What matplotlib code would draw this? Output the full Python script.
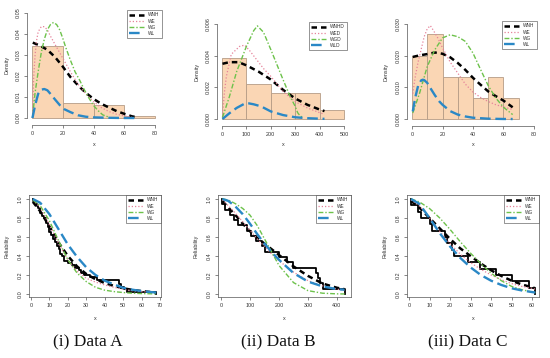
import matplotlib
matplotlib.use("Agg")
import matplotlib.pyplot as plt

# ---------------- data ----------------
# Top row: histograms (bin edges start, width, density heights)
binsA_left = [0, 20, 40, 60]
binsA_height = [0.0345, 0.0070, 0.0060, 0.0011]
binsA_width = 20
binsB_left = [0, 100, 200, 300, 400]
binsB_height = [0.00389, 0.00222, 0.00167, 0.00167, 0.00056]
binsB_width = 100
binsC_left = [0, 10, 20, 30, 40, 50, 60]
binsC_height = [0.0200, 0.0267, 0.0133, 0.0133, 0.00667, 0.0133, 0.00667]
binsC_width = 10

# Top row fitted densities
wnhA_x = [0.5, 5, 10, 15, 20, 25, 30, 35, 40, 45, 50, 55, 60, 65, 68]
wnhA_y = [0.0359, 0.0345, 0.0325, 0.029, 0.0245, 0.0195, 0.0155, 0.012, 0.0091, 0.0068, 0.005, 0.0033, 0.002, 0.0008, 0.0004]
weA_x = [0.3, 1, 2, 3, 4, 6, 8, 10, 12, 15, 20, 25, 30, 35, 40, 45, 50, 55, 60, 65]
weA_y = [0.0, 0.018, 0.030, 0.037, 0.041, 0.0435, 0.0435, 0.042, 0.039, 0.035, 0.0285, 0.022, 0.016, 0.0115, 0.0078, 0.005, 0.0031, 0.0018, 0.001, 0.0005]
wgA_x = [0.3, 2, 4, 6, 8, 10, 12, 14, 16, 18, 20, 22, 25, 28, 31, 34, 37, 40, 43, 46, 50]
wgA_y = [0.0, 0.012, 0.022, 0.031, 0.0375, 0.042, 0.0445, 0.0455, 0.0445, 0.042, 0.038, 0.0335, 0.0275, 0.022, 0.018, 0.0135, 0.0095, 0.006, 0.0035, 0.0015, 0.0004]
wlA_x = [0.3, 2, 4, 6, 8, 10, 12, 15, 18, 21, 25, 30, 35, 40, 50, 60, 68]
wlA_y = [0.0, 0.006, 0.0115, 0.0135, 0.0138, 0.0132, 0.0115, 0.0088, 0.0062, 0.0042, 0.0028, 0.0013, 0.0006, 0.0003, 0.0001, 0.0, 0.0]

wnhB_x = [2, 30, 68, 100, 150, 200, 250, 300, 350, 400, 420]
wnhB_y = [0.0035, 0.0036, 0.0036, 0.0034, 0.0030, 0.0025, 0.00185, 0.0013, 0.0009, 0.0006, 0.0005]
weB_x = [2, 4, 10, 18, 38, 72, 93, 115, 140, 170, 200, 250, 300, 350, 400, 420]
weB_y = [0.0001, 0.0006, 0.0017, 0.0027, 0.0041, 0.0046, 0.00468, 0.0043, 0.0038, 0.0032, 0.0027, 0.00175, 0.0011, 0.0007, 0.0004, 0.0003]
wgB_x = [2, 30, 60, 100, 130, 145, 170, 200, 250, 280, 300, 310, 320, 330]
wgB_y = [0.0001, 0.0014, 0.0030, 0.0046, 0.0056, 0.0059, 0.0055, 0.0044, 0.0025, 0.0014, 0.0008, 0.0004, 0.0002, 0.0001]
wlB_x = [2, 30, 60, 96, 110, 130, 160, 200, 250, 300, 350, 400, 420]
wlB_y = [0.0, 0.00036, 0.0007, 0.001, 0.00099, 0.00093, 0.0008, 0.00048, 0.00025, 0.00011, 0.00005, 0.00002, 0.00001]

wnhC_x = [0.5, 5, 10, 15, 20, 25, 30, 35, 40, 45, 50, 55, 60, 66]
wnhC_y = [0.0196, 0.0201, 0.0205, 0.021, 0.0206, 0.0195, 0.0177, 0.0155, 0.013, 0.0108, 0.0087, 0.0072, 0.0058, 0.0037]
weC_x = [0.5, 2, 4, 6, 8, 10, 12, 14, 17, 20, 25, 30, 35, 40, 45, 50, 55, 60, 66]
weC_y = [0.008, 0.013, 0.018, 0.022, 0.026, 0.0285, 0.0295, 0.028, 0.0255, 0.0225, 0.018, 0.0145, 0.011, 0.0085, 0.0068, 0.0055, 0.0045, 0.0038, 0.003]
wgC_x = [0.5, 5, 10, 15, 20, 25, 30, 35, 40, 45, 50, 55, 60, 66]
wgC_y = [0.0019, 0.0082, 0.0166, 0.0219, 0.0256, 0.0266, 0.026, 0.0245, 0.0208, 0.0156, 0.0105, 0.0066, 0.0037, 0.0014]
wlC_x = [0.5, 2, 4, 6, 7, 8, 10, 12, 15, 18, 20, 25, 30, 35, 40, 50, 60, 66]
wlC_y = [0.0024, 0.0065, 0.0105, 0.0122, 0.0124, 0.0123, 0.0114, 0.0098, 0.0075, 0.0055, 0.0045, 0.0025, 0.0014, 0.0008, 0.0004, 0.0001, 0.0, 0.0]

# Bottom row: empirical reliability (step, post)
empA_x = [1, 1, 2, 3, 4, 5, 6, 7, 8, 9, 10, 11, 12, 13, 14, 15, 16, 17, 18, 20, 22, 24, 26, 27, 29, 32, 35.7, 48, 49, 50.5, 52, 68]
empA_y = [1.0, 0.975, 0.95, 0.925, 0.9, 0.85, 0.825, 0.8, 0.75, 0.7, 0.65, 0.625, 0.575, 0.55, 0.5, 0.475, 0.425, 0.4, 0.35, 0.325, 0.3, 0.275, 0.25, 0.225, 0.2, 0.175, 0.15, 0.1, 0.075, 0.05, 0.025, 0.0]
empB_x = [5, 5, 15, 30, 45, 58, 90, 105, 120, 140, 152, 200, 226, 249, 329, 333, 340, 352, 426]
empB_y = [1.0, 0.944, 0.889, 0.833, 0.778, 0.722, 0.667, 0.611, 0.556, 0.5, 0.444, 0.389, 0.333, 0.278, 0.222, 0.167, 0.111, 0.056, 0.0]
empC_x = [1, 1, 4.4, 6, 10.1, 11, 17.5, 18.3, 21, 22, 29, 34.7, 42.3, 50.2, 58.4, 61.6]
empC_y = [1.0, 0.933, 0.867, 0.8, 0.733, 0.667, 0.6, 0.533, 0.467, 0.4, 0.333, 0.267, 0.2, 0.133, 0.067, 0.0]

# Bottom row fitted reliability
relA_x = [1, 5, 10, 15, 20, 25, 30, 35, 40, 45, 50, 55, 60, 65, 68]
relA_wnh = [0.97, 0.87, 0.71, 0.54, 0.40, 0.29, 0.21, 0.155, 0.115, 0.085, 0.06, 0.043, 0.03, 0.02, 0.016]
relA_we = [0.99, 0.91, 0.73, 0.53, 0.36, 0.24, 0.165, 0.125, 0.095, 0.07, 0.05, 0.035, 0.025, 0.018, 0.015]
relA_wg = [0.99, 0.93, 0.77, 0.56, 0.36, 0.22, 0.13, 0.07, 0.04, 0.025, 0.015, 0.008, 0.004, 0.002, 0.001]
relA_wl = [1.0, 0.96, 0.84, 0.68, 0.52, 0.39, 0.28, 0.20, 0.14, 0.10, 0.065, 0.045, 0.03, 0.02, 0.015]

relB_x = [5, 25, 50, 75, 100, 125, 150, 175, 200, 250, 300, 350, 400, 426]
relB_wnh = [0.98, 0.91, 0.83, 0.74, 0.66, 0.59, 0.53, 0.47, 0.41, 0.29, 0.19, 0.11, 0.065, 0.05]
relB_we = [0.99, 0.93, 0.85, 0.76, 0.67, 0.58, 0.50, 0.42, 0.35, 0.23, 0.14, 0.085, 0.05, 0.04]
relB_wg = [1.0, 0.99, 0.95, 0.90, 0.83, 0.72, 0.58, 0.44, 0.30, 0.12, 0.035, 0.008, 0.001, 0.0]
relB_wl = [1.0, 0.98, 0.92, 0.84, 0.74, 0.63, 0.53, 0.44, 0.36, 0.22, 0.13, 0.08, 0.05, 0.045]

relC_x = [1, 5, 10, 15, 20, 25, 30, 35, 40, 45, 50, 55, 60, 61.6]
relC_wnh = [0.98, 0.91, 0.80, 0.69, 0.58, 0.48, 0.40, 0.32, 0.25, 0.19, 0.14, 0.10, 0.07, 0.06]
relC_we = [0.99, 0.93, 0.80, 0.66, 0.53, 0.42, 0.33, 0.26, 0.20, 0.15, 0.11, 0.08, 0.06, 0.05]
relC_wg = [1.0, 0.97, 0.90, 0.80, 0.68, 0.55, 0.43, 0.32, 0.22, 0.14, 0.08, 0.045, 0.02, 0.015]
relC_wl = [1.0, 0.95, 0.80, 0.64, 0.50, 0.38, 0.28, 0.20, 0.14, 0.095, 0.06, 0.037, 0.02, 0.015]

legend_top_A = ["WNH", "WE", "WG", "WL"]
legend_top_B = ["WNHD", "WED", "WGD", "WLD"]
legend_top_C = ["WNH", "WE", "WG", "WL"]
legend_bottom = ["WNH", "WE", "WG", "WL"]
captions = ["(i) Data A", "(ii) Data B", "(iii) Data C"]

xticksA_top = [0, 20, 40, 60, 80]
yticksA_top = [0.00, 0.01, 0.02, 0.03, 0.04, 0.05]
yticklabA_top = ["0.00", "0.01", "0.02", "0.03", "0.04", "0.05"]
xticksB_top = [0, 100, 200, 300, 400, 500]
yticksB_top = [0.000, 0.002, 0.004, 0.006]
yticklabB_top = ["0.000", "0.002", "0.004", "0.006"]
xticksC_top = [0, 20, 40, 60, 80]
yticksC_top = [0.000, 0.010, 0.020, 0.030]
yticklabC_top = ["0.000", "0.010", "0.020", "0.030"]
xticksA_bot = [0, 10, 20, 30, 40, 50, 60, 70]
xticksB_bot = [0, 100, 200, 300, 400]
xticksC_bot = [0, 10, 20, 30, 40, 50, 60]
yticks_bot = [0.0, 0.2, 0.4, 0.6, 0.8, 1.0]
yticklab_bot = ["0.0", "0.2", "0.4", "0.6", "0.8", "1.0"]

# ---------------- style ----------------
W, H = 550, 358
C_BLACK = "#000000"
C_PINK = "#E6839A"
C_GREEN = "#6DC24B"
C_BLUE = "#2A88C6"
C_FILL = "#FAD6B4"
C_EDGE = "#B59C86"
AX_COL = "#555555"
TXT_COL = "#333333"
TICK_FS = 3.9
SANS = ["Liberation Sans", "DejaVu Sans"]

styles = [
    dict(color=C_BLACK, lw=1.8, ls=(0, (2.2, 1.6))),
    dict(color=C_PINK, lw=0.9, ls=(0, (1, 1.6))),
    dict(color=C_GREEN, lw=1.0, ls=(0, (3.5, 1.4, 1, 1.4))),
    dict(color=C_BLUE, lw=1.7, ls=(0, (4.5, 2.0))),
]

fig = plt.figure(figsize=(W / 100, H / 100), dpi=100)
fig.patch.set_facecolor("white")


def make_ax(left, right, top, bottom):
    return fig.add_axes([left / W, 1 - bottom / H, (right - left) / W, (bottom - top) / H])


def style_ticks(ax, pad_x, pad_y):
    ax.tick_params(axis="both", which="both", direction="out", length=2.2, width=0.5,
                   color=AX_COL, labelsize=TICK_FS, labelcolor=TXT_COL)
    ax.tick_params(axis="x", pad=pad_x)
    ax.tick_params(axis="y", pad=pad_y)
    for lab in ax.get_yticklabels():
        lab.set_rotation(90)
        lab.set_va("center")
        lab.set_family(SANS)
    for lab in ax.get_xticklabels():
        lab.set_family(SANS)


def add_legend(ax, labels, right, top):
    handles = [plt.Line2D([], [], **s) for s in styles]
    leg = ax.legend(handles, labels, loc="upper right",
                    bbox_to_anchor=(right / W, 1 - top / H), bbox_transform=fig.transFigure,
                    borderaxespad=0, frameon=True, fancybox=False,
                    edgecolor="#444444", handlelength=3.2, handletextpad=0.8,
                    labelspacing=0.25, borderpad=0.5, prop={"family": SANS, "size": 3.4})
    leg.get_frame().set_linewidth(0.5)
    for t in leg.get_texts():
        t.set_color(TXT_COL)


def label_pos(ax, xlabel, ylabel, xl_px, yl_px):
    ax.set_xlabel(xlabel, fontsize=3.9, color=TXT_COL, family=SANS)
    ax.set_ylabel(ylabel, fontsize=3.9, color=TXT_COL, family=SANS)
    ax.xaxis.set_label_coords(xl_px[0] / W, 1 - xl_px[1] / H, transform=fig.transFigure)
    ax.yaxis.set_label_coords(yl_px[0] / W, 1 - yl_px[1] / H, transform=fig.transFigure)
    ax.xaxis.label.set_va("center")
    ax.yaxis.label.set_va("center")


def top_panel(rect, xlim, ylim, bl, bh, bw, curves, xt, yt, ytl, legend_labels, leg_rt):
    ax = make_ax(*rect)
    ax.bar(bl, bh, width=bw, align="edge", color=C_FILL, edgecolor=C_EDGE, linewidth=0.6, zorder=1)
    for (cx, cy), s in zip(curves, styles):
        ax.plot(cx, cy, zorder=3, **s)
    ax.set_xlim(*xlim)
    ax.set_ylim(*ylim)
    ax.set_xticks(xt)
    ax.set_xticklabels([str(v) for v in xt])
    ax.set_yticks(yt)
    ax.set_yticklabels(ytl)
    for sp in ["top", "right"]:
        ax.spines[sp].set_visible(False)
    ax.spines["left"].set_bounds(yt[0], yt[-1])
    ax.spines["bottom"].set_bounds(xt[0], xt[-1])
    for sp in ["left", "bottom"]:
        ax.spines[sp].set_color(AX_COL)
        ax.spines[sp].set_linewidth(0.5)
    style_ticks(ax, 2.0, 2.0)
    add_legend(ax, legend_labels, *leg_rt)
    ax.set_facecolor("none")
    return ax


def bottom_panel(rect, xlim, ex, ey, rx, rys, xt, leg_rt):
    ax = make_ax(*rect)
    ax.step(ex, ey, where="post", color=C_BLACK, lw=1.3, zorder=2)
    for ry, s in zip(rys, styles):
        ax.plot(rx, ry, zorder=3, **s)
    ax.set_xlim(*xlim)
    ax.set_ylim(-0.032, 1.042)
    ax.set_xticks(xt)
    ax.set_xticklabels([str(v) for v in xt])
    ax.set_yticks(yticks_bot)
    ax.set_yticklabels(yticklab_bot)
    for sp in ax.spines.values():
        sp.set_color(AX_COL)
        sp.set_linewidth(0.5)
    style_ticks(ax, 2.0, 2.6)
    add_legend(ax, legend_bottom, *leg_rt)
    return ax


# ---- top row ----
axA = top_panel((27, 160, 6, 125), (-3.25, 83.25), (-0.00333, 0.05333),
                binsA_left, binsA_height, binsA_width,
                [(wnhA_x, wnhA_y), (weA_x, weA_y), (wgA_x, wgA_y), (wlA_x, wlA_y)],
                xticksA_top, yticksA_top, yticklabA_top, legend_top_A, (162, 10))
label_pos(axA, "x", "Density", (94, 144), (7, 65))

axB = top_panel((217, 349, 17, 126), (-20.5, 520.5), (-0.000444, 0.006463),
                binsB_left, binsB_height, binsB_width,
                [(wnhB_x, wnhB_y), (weB_x, weB_y), (wgB_x, wgB_y), (wlB_x, wlB_y)],
                xticksB_top, yticksB_top, yticklabB_top, legend_top_B, (347, 22))
label_pos(axB, "x", "Density", (283, 144), (197, 72))

axC = top_panel((407, 539, 17, 126), (-3.28, 83.28), (-0.00221, 0.03221),
                binsC_left, binsC_height, binsC_width,
                [(wnhC_x, wnhC_y), (weC_x, weC_y), (wgC_x, wgC_y), (wlC_x, wlC_y)],
                xticksC_top, yticksC_top, yticklabC_top, legend_top_C, (537, 21))
label_pos(axC, "x", "Density", (473, 144), (386, 72))

# ---- bottom row ----
axD = bottom_panel((29, 161, 195, 297), (-1.09, 70.54), empA_x, empA_y,
                   relA_x, [relA_wnh, relA_we, relA_wg, relA_wl], xticksA_bot, (161, 195))
label_pos(axD, "x", "Reliability", (95, 318), (7, 246))

axE = bottom_panel((218, 351, 195, 297), (-10.3, 448.3), empB_x, empB_y,
                   relB_x, [relB_wnh, relB_we, relB_wg, relB_wl], xticksB_bot, (351, 195))
label_pos(axE, "x", "Reliability", (284, 318), (196, 246))

axF = bottom_panel((407, 539, 195, 297), (-0.98, 63.4), empC_x, empC_y,
                   relC_x, [relC_wnh, relC_we, relC_wg, relC_wl], xticksC_bot, (539, 195))
label_pos(axF, "x", "Reliability", (473, 318), (385, 246))

# ---- captions ----
for cx, txt in zip([88, 278, 468], captions):
    fig.text(cx / W, 1 - 342 / H, txt, ha="center", va="center", fontsize=12.5,
             family=["Liberation Serif", "DejaVu Serif"], color="#111111")

fig.savefig("out.png", dpi=100, facecolor="white")
